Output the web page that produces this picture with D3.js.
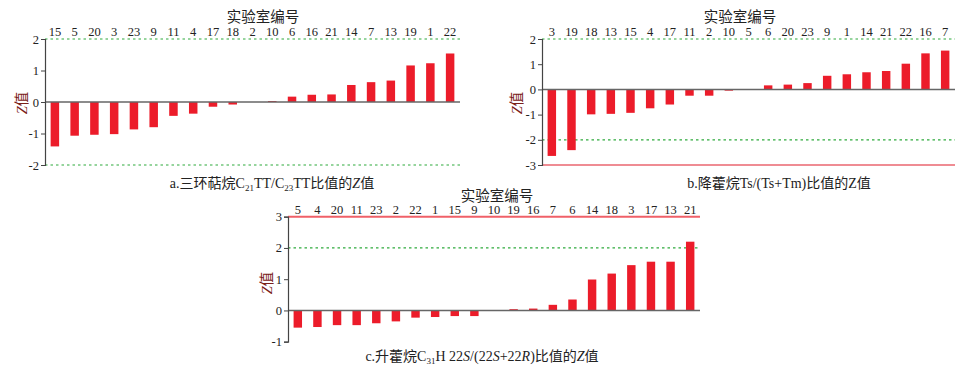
<!DOCTYPE html>
<html>
<head>
<meta charset="utf-8">
<script src="https://cdn.jsdelivr.net/npm/d3@7"></script>
<style>
  body { margin: 0; background: #fff; }
  svg { display: block; font-family: "Liberation Serif", "Noto Sans CJK SC", serif; }
</style>
</head>
<body>
<div id="chart"></div>
<script>
// panel a: tricyclic terpane C21TT/C23TT
var labsA = ["15","5","20","3","23","9","11","4","17","18","2","10","6","16","21","14","7","13","19","1","22"];
var valsA = [-1.41,-1.07,-1.04,-1.02,-0.87,-0.80,-0.44,-0.37,-0.15,-0.08,0,0.03,0.17,0.23,0.24,0.54,0.63,0.68,1.16,1.23,1.54];
var ticksA = [2, 1, 0, -1, -2];

// panel b: Ts/(Ts+Tm)
var labsB = ["3","19","18","13","15","4","17","11","2","10","5","6","20","23","9","1","14","21","22","16","7"];
var valsB = [-2.64,-2.41,-0.99,-0.97,-0.93,-0.75,-0.60,-0.25,-0.25,-0.05,0,0.16,0.19,0.25,0.54,0.60,0.68,0.73,1.02,1.43,1.54];
var ticksB = [2, 1, 0, -1, -2, -3];

// panel c: C31H 22S/(22S+22R)
var labsC = ["5","4","20","11","23","2","22","1","15","9","10","19","16","7","6","14","18","3","17","13","21"];
var valsC = [-0.55,-0.53,-0.47,-0.47,-0.41,-0.35,-0.23,-0.21,-0.18,-0.18,0,0.04,0.06,0.18,0.35,0.99,1.18,1.45,1.56,1.56,2.20];
var ticksC = [3, 2, 1, 0, -1];

var svg = d3.select("#chart").append("svg")
  .attr("width", 968)
  .attr("height", 372);

function drawPanel(p) {
  var g = svg.append("g");

  var x = d3.scaleBand()
    .domain(p.labels)
    .range([p.left, p.right])
    .paddingInner(0.57)
    .paddingOuter(0.285);

  var y = d3.scaleLinear()
    .domain(p.domain)
    .range([p.bottom, p.top]);

  // green dotted limit lines (|Z| = 2)
  p.green.forEach(function(v) {
    g.append("line")
      .attr("x1", p.left).attr("x2", p.right)
      .attr("y1", y(v)).attr("y2", y(v))
      .attr("stroke", "#2eaa3c")
      .attr("stroke-width", 1.2)
      .attr("stroke-dasharray", "2.5,3");
  });

  // red solid lines (|Z| = 3)
  p.red.forEach(function(v) {
    g.append("line")
      .attr("x1", p.left).attr("x2", p.right)
      .attr("y1", y(v)).attr("y2", y(v))
      .attr("stroke", p.redColor)
      .attr("stroke-width", p.redWidth);
  });

  // bars
  var data = p.labels.map(function(l, i) { return { lab: l, v: p.values[i] }; });
  g.selectAll(".bar")
    .data(data.filter(function(d) { return d.v !== 0; }))
    .enter()
    .append("rect")
    .attr("class", "bar")
    .attr("x", function(d) { return x(d.lab); })
    .attr("width", x.bandwidth())
    .attr("y", function(d) { return y(Math.max(0, d.v)); })
    .attr("height", function(d) { return Math.abs(y(d.v) - y(0)); })
    .attr("fill", "#ec1c2a");

  // zero line
  g.append("line")
    .attr("x1", p.left).attr("x2", p.right)
    .attr("y1", y(0)).attr("y2", y(0))
    .attr("stroke", "#666")
    .attr("stroke-width", 1.5);

  // y axis (plain hyphen for negatives, like the original)
  var yAxis = g.append("g")
    .attr("transform", "translate(" + p.left + ",0)")
    .call(d3.axisLeft(y).tickValues(p.ticks).tickSize(4).tickPadding(2)
      .tickFormat(function(d) { return String(d); }));
  yAxis.select(".domain").attr("stroke", "#444").attr("stroke-width", 1.2);
  yAxis.selectAll(".tick line").attr("stroke", "#444");
  yAxis.selectAll("text")
    .attr("font-size", 12.5)
    .attr("font-family", "Liberation Serif, serif")
    .attr("fill", "#222");

  // lab numbers on top
  var xAxis = g.append("g")
    .attr("transform", "translate(0," + y(p.domain[1]) + ")")
    .call(d3.axisTop(x).tickSize(0).tickPadding(3));
  xAxis.select(".domain").remove();
  xAxis.selectAll("text")
    .attr("font-size", 12.5)
    .attr("font-family", "Liberation Serif, serif")
    .attr("fill", "#222");

  // title above
  g.append("text")
    .attr("x", p.titleX)
    .attr("y", p.titleY)
    .attr("text-anchor", "middle")
    .attr("font-size", 14.5)
    .attr("fill", "#222")
    .text("实验室编号");

  // y label
  var yl = g.append("text")
    .attr("transform", "translate(" + p.ylabX + "," + p.ylabY + ") rotate(-90)")
    .attr("text-anchor", "middle")
    .attr("font-size", 14.5)
    .attr("fill", "#7a2018");
  yl.append("tspan").attr("font-style", "italic").attr("font-family", "Liberation Serif, serif").text("Z");
  yl.append("tspan").text("值");

  // caption
  var cap = g.append("text")
    .attr("x", p.capX)
    .attr("y", p.capY)
    .attr("text-anchor", "middle")
    .attr("font-size", 14)
    .attr("fill", "#222");
  p.caption.forEach(function(part) {
    var t = cap.append("tspan").text(part.t);
    if (part.sub) t.attr("font-size", 9).attr("dy", 3);
    if (part.up) t.attr("dy", -3);
    if (part.it) t.attr("font-style", "italic");
  });
}

drawPanel({
  labels: labsA, values: valsA, ticks: ticksA,
  domain: [-2, 2], left: 45, right: 460, top: 39, bottom: 165,
  green: [2, -2], red: [], redColor: "#e82030", redWidth: 1.2,
  titleX: 263, titleY: 22, ylabX: 27, ylabY: 103,
  capX: 272, capY: 188,
  caption: [{t: "a.三环萜烷C"}, {t: "21", sub: true}, {t: "TT/C", up: true}, {t: "23", sub: true}, {t: "TT比值的", up: true}, {t: "Z", it: true}, {t: "值"}]
});

drawPanel({
  labels: labsB, values: valsB, ticks: ticksB,
  domain: [-3, 2], left: 542, right: 955, top: 39, bottom: 165,
  green: [2, -2], red: [-3], redColor: "#e01a28", redWidth: 1.2,
  titleX: 740, titleY: 22, ylabX: 522, ylabY: 103,
  capX: 779, capY: 188,
  caption: [{t: "b.降藿烷Ts/(Ts+Tm)比值的Z值"}]
});

drawPanel({
  labels: labsC, values: valsC, ticks: ticksC,
  domain: [-1, 3], left: 288, right: 700, top: 216.7, bottom: 341.7,
  green: [2], red: [3], redColor: "#f06068", redWidth: 2,
  titleX: 497, titleY: 201, ylabX: 272, ylabY: 283,
  capX: 482, capY: 361,
  caption: [{t: "c.升藿烷C"}, {t: "31", sub: true}, {t: "H 22", up: true}, {t: "S", it: true}, {t: "/(22"}, {t: "S", it: true}, {t: "+22"}, {t: "R", it: true}, {t: ")比值的"}, {t: "Z", it: true}, {t: "值"}]
});
</script>
</body>
</html>
